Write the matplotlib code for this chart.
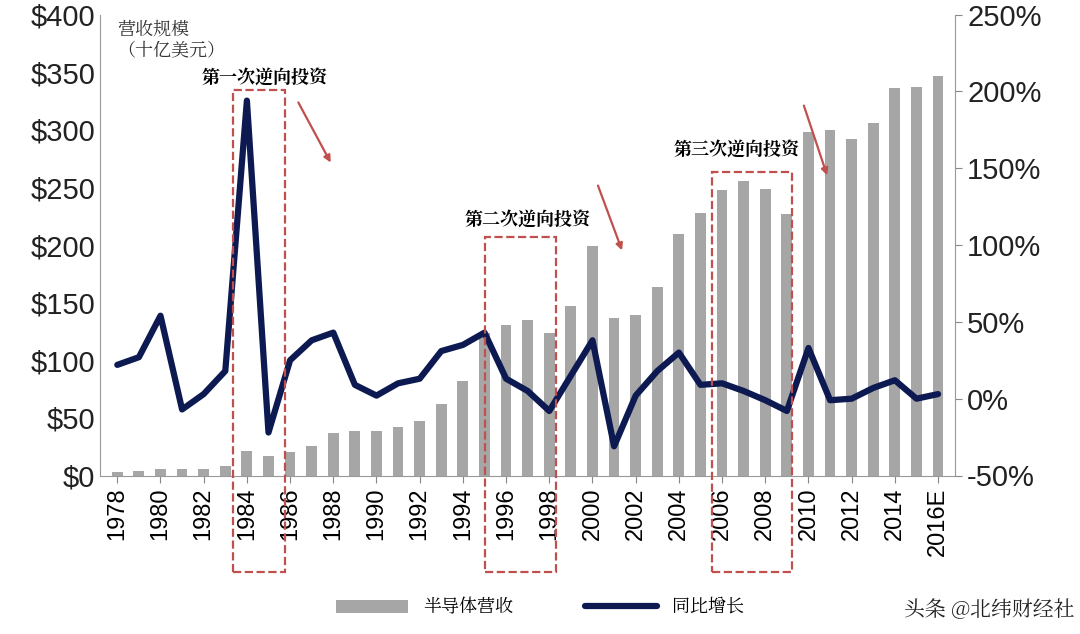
import matplotlib.pyplot as plt
from matplotlib import font_manager
from matplotlib.patches import Rectangle
from matplotlib.ticker import FuncFormatter

cjk = [f.name for f in font_manager.fontManager.ttflist if 'CJK' in f.name]
cjk_name = 'Noto Sans CJK SC' if 'Noto Sans CJK SC' in cjk else (cjk[0] if cjk else 'DejaVu Sans')
plt.rcParams['font.family'] = ['Liberation Sans', cjk_name]
plt.rcParams['axes.unicode_minus'] = False

years = list(range(1978, 2017))
revenue = [3, 4, 6, 6, 6, 8, 21, 17, 20, 26, 37, 39, 39, 42, 47, 62, 82, 124,
           131, 135, 124, 147, 199, 137, 139, 164, 210, 228, 248, 256, 249, 227,
           298, 300, 292, 306, 336, 337, 347]
growth = [22, 27, 54, -7, 3, 18, 194, -22, 25, 38, 43, 9, 2, 10, 13, 31, 35, 43,
          13, 5, -8, 15, 38, -31, 2, 18, 30, 9, 10, 5, -1, -8, 33, -1, 0, 7, 12, 0, 3]
tick_years = list(range(1978, 2017, 2))
tick_labels = [str(y) for y in tick_years[:-1]] + ['2016E']

fig = plt.figure(figsize=(10.8, 6.34), dpi=100)
ax = fig.add_axes([0.0926, 0.25, 0.792, 0.727])
ax.bar(years, revenue, width=0.5, color='#a6a6a6', label='半导体营收')
ax.set_xlim(1977.2, 2016.8)
ax.set_ylim(0, 400)
ax.set_yticks(range(0, 401, 50))
ax.yaxis.set_major_formatter(FuncFormatter(lambda v, p: f'${int(v)}'))
ax.set_xticks(tick_years)
ax.set_xticklabels(tick_labels, rotation=90, fontsize=17)
ax.tick_params(axis='y', labelsize=21, colors='#222', length=0)
ax.tick_params(axis='x', direction='out', length=5, color='#888')
for s in ['top', 'right']:
    ax.spines[s].set_visible(False)
for s in ['left', 'bottom']:
    ax.spines[s].set_color('#999')

ax2 = ax.twinx()
ax2.plot(years, growth, color='#0d1a52', lw=4.5, label='同比增长',
         solid_capstyle='round', solid_joinstyle='round')
ax2.set_ylim(-50, 250)
ax2.set_yticks(range(-50, 251, 50))
ax2.yaxis.set_major_formatter(FuncFormatter(lambda v, p: f'{int(v)}%'))
ax2.tick_params(axis='y', labelsize=21, colors='#222', direction='out', length=5, color='#888')
for s in ['top', 'left', 'bottom']:
    ax2.spines[s].set_visible(False)
ax2.spines['right'].set_color('#999')

ax.text(0.02, 0.99, '营收规模\n（十亿美元）', transform=ax.transAxes, fontsize=13,
        va='top', color='#333', linespacing=1.1, fontfamily=cjk_name)

# dashed boxes (figure pixel coords)
boxes = [(233, 90, 285), (485, 237, 556), (712, 172, 792)]
for x0, y0, x1 in boxes:
    fig.patches.append(Rectangle((x0 / 1080, 1 - 572 / 634), (x1 - x0) / 1080,
                                 (572 - y0) / 634, transform=fig.transFigure,
                                 fill=False, ls='--', lw=1.6, ec='#c0504d'))
labels = [('第一次逆向投资', 265, 78), ('第二次逆向投资', 528, 220), ('第三次逆向投资', 737, 150)]
for t, x, y in labels:
    fig.text(x / 1080, 1 - y / 634, t, fontsize=13, fontweight='bold', ha='center', va='center',
             fontfamily=cjk_name)
arrows = [((297, 100), (332, 165)), ((597, 183), (623, 253)), ((803, 103), (828, 178))]
for (xa, ya), (xb, yb) in arrows:
    fig.add_artist(plt.Annotation('', xy=(xb / 1080, 1 - yb / 634), xytext=(xa / 1080, 1 - ya / 634),
                                  xycoords='figure fraction',
                                  arrowprops=dict(arrowstyle='-|>', color='#c0504d', lw=1.6)))

h1, l1 = ax.get_legend_handles_labels()
h2, l2 = ax2.get_legend_handles_labels()
fig.legend(h1 + h2, l1 + l2, loc='lower center', bbox_to_anchor=(0.5, 0.0), ncol=2,
           frameon=False, handlelength=4, columnspacing=4,
           prop={'family': cjk_name, 'size': 13})
fig.text(0.995, 0.02, '头条 @北纬财经社', fontsize=15, ha='right', va='bottom', color='#222',
         fontfamily=cjk_name)

fig.savefig('out.png')
